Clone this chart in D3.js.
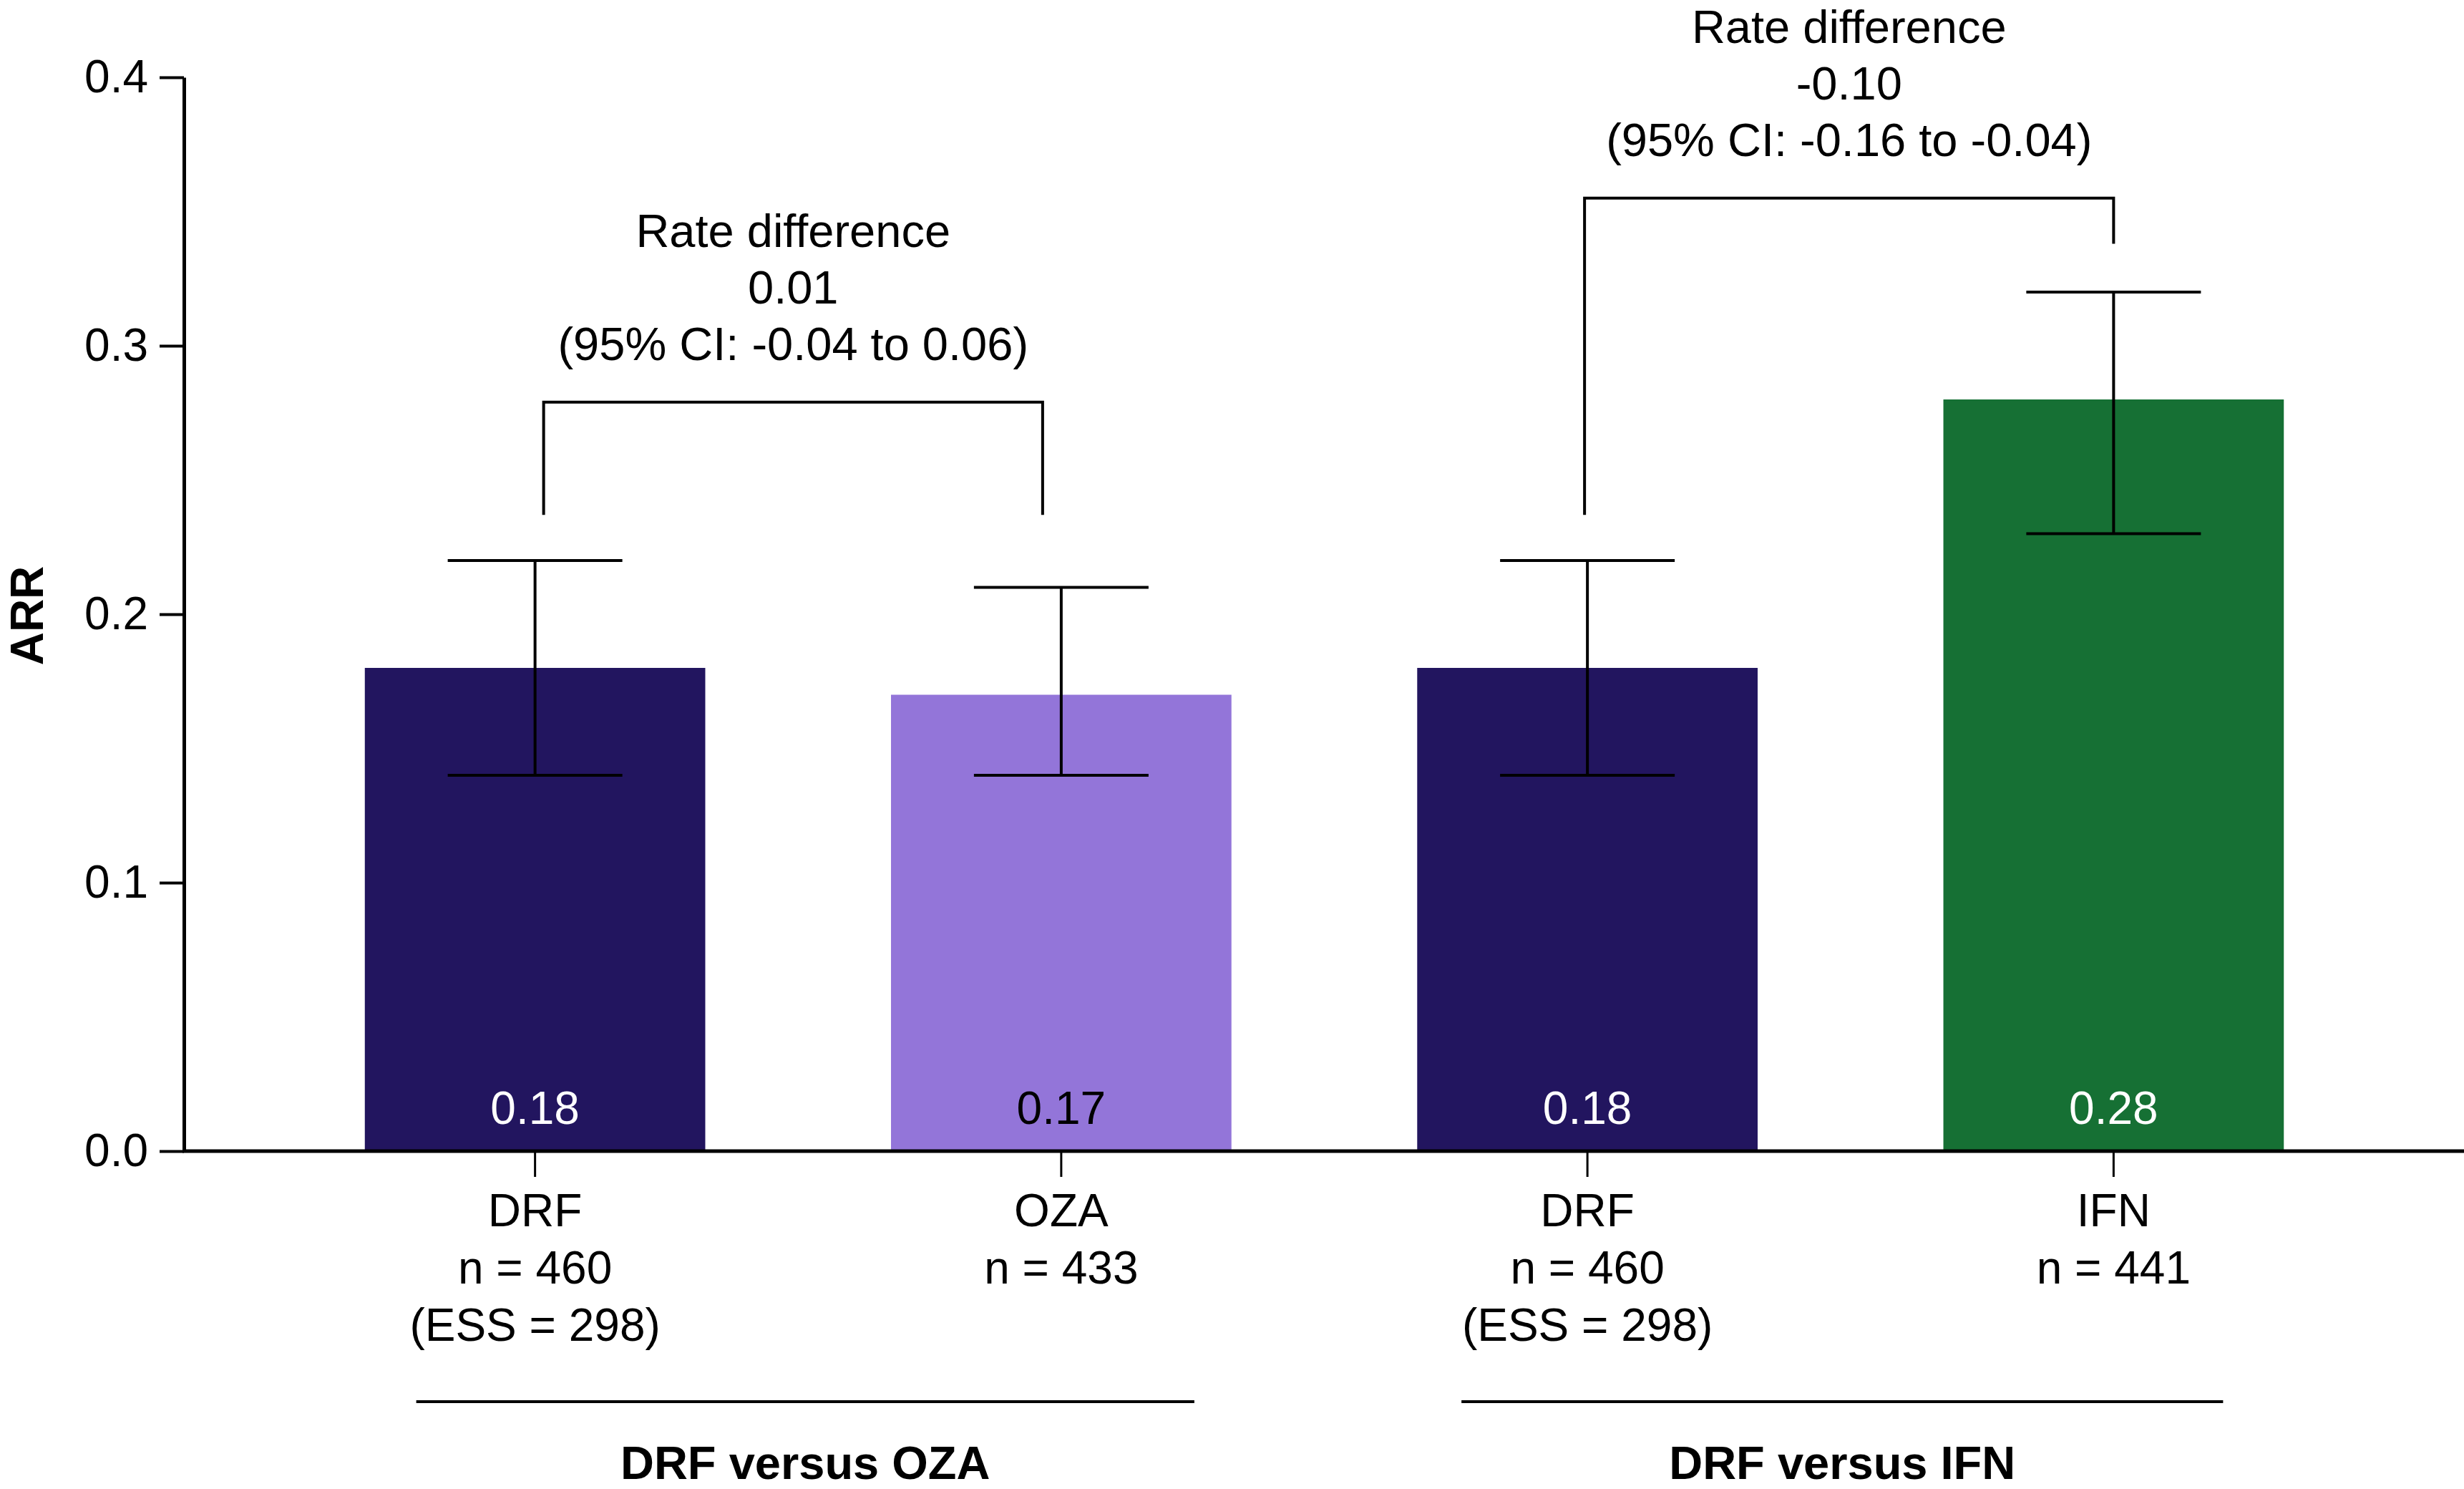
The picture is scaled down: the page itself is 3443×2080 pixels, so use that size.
<!DOCTYPE html>
<html>
<head>
<meta charset="utf-8">
<script src="https://d3js.org/d3.v7.min.js"></script>
<style>
  body { margin: 0; background: #fff; }
  text { font-family: "Liberation Sans", Arial, Helvetica, sans-serif; }
</style>
</head>
<body>
<div id="chart"></div>
<script>
// data
const arms = ["DRF", "OZA", "DRF", "IFN"];
const nText = ["n = 460", "n = 433", "n = 460", "n = 441"];
const essText = ["(ESS = 298)", "", "(ESS = 298)", ""];
const arr = [0.18, 0.17, 0.18, 0.28];
const ciLow = [0.14, 0.14, 0.14, 0.23];
const ciHigh = [0.22, 0.21, 0.22, 0.32];
const yTicks = [0, 0.1, 0.2, 0.3, 0.4];

const groupNames = ["DRF versus OZA", "DRF versus IFN"];
const groupPairs = [[0, 1], [2, 3]];
const rateDiff = ["0.01", "-0.10"];
const rateCI = ["(95% CI: -0.04 to 0.06)", "(95% CI: -0.16 to -0.04)"];
const bracketTop = [0.279, 0.355];
const bracketLeftEnd = [0.237, 0.237];
const bracketRightEnd = [0.237, 0.338];

const barColors = ["#22155f", "#9375d9", "#22155f", "#167034"];
const valueColors = ["#ffffff", "#000000", "#ffffff", "#ffffff"];

const W = 3443, H = 2080;
const axisX = 257, axisY = 1608, topY = 108;
const fs = 64;
// small horizontal insets, as drawn in the original
const bracketInset = [[12, 26], [-4, 0]];
const underlineReach = [[166, 186], [176, 153]];

const svg = d3.select("#chart").append("svg")
  .attr("width", W).attr("height", H);

const y = d3.scaleLinear().domain([0, 0.4]).range([axisY, topY]);
const x = d3.scaleBand().domain(d3.range(arms.length))
  .range([380, 3321]).paddingInner(0.353).paddingOuter(0.1765);
const cx = i => x(i) + x.bandwidth() / 2;

// bars
svg.append("g").selectAll("rect")
  .data(arr)
  .join("rect")
    .attr("x", (d, i) => x(i))
    .attr("y", d => y(d))
    .attr("width", x.bandwidth())
    .attr("height", d => axisY - y(d))
    .attr("fill", (d, i) => barColors[i]);

// value labels inside bars
svg.append("g").selectAll("text")
  .data(arr)
  .join("text")
    .attr("x", (d, i) => cx(i))
    .attr("y", axisY - 38)
    .attr("text-anchor", "middle")
    .attr("font-size", fs)
    .attr("fill", (d, i) => valueColors[i])
    .text(d => d.toFixed(2));

// error bars
const err = svg.append("g").attr("stroke", "#000").attr("stroke-width", 4);
arr.forEach((d, i) => {
  err.append("line").attr("x1", cx(i)).attr("x2", cx(i))
    .attr("y1", y(ciLow[i])).attr("y2", y(ciHigh[i]));
  [ciLow[i], ciHigh[i]].forEach(v => {
    err.append("line").attr("x1", cx(i) - 122).attr("x2", cx(i) + 122)
      .attr("y1", y(v)).attr("y2", y(v));
  });
});

// y axis
const yAxis = svg.append("g")
  .attr("transform", `translate(${axisX},0)`)
  .call(d3.axisLeft(y).tickValues(yTicks).tickFormat(d3.format(".1f"))
    .tickSize(34).tickSizeOuter(0).tickPadding(16));
yAxis.select(".domain").attr("stroke-width", 5);
yAxis.selectAll(".tick line").attr("stroke-width", 4);
yAxis.selectAll(".tick text").attr("font-size", fs).attr("fill", "#000")
  .attr("font-family", "Liberation Sans, Arial, sans-serif");

svg.append("text")
  .attr("transform", `translate(60,860) rotate(-90)`)
  .attr("text-anchor", "middle")
  .attr("font-size", fs).attr("font-weight", "bold")
  .text("ARR");

// x axis
const xAxis = svg.append("g")
  .attr("transform", `translate(0,${axisY})`)
  .call(d3.axisBottom(x).tickSize(36).tickFormat(""));
xAxis.select(".domain").remove();
xAxis.selectAll(".tick line").attr("stroke-width", 3);
svg.append("line")
  .attr("x1", axisX - 2).attr("x2", W)
  .attr("y1", axisY).attr("y2", axisY)
  .attr("stroke", "#000").attr("stroke-width", 5);

// category labels
const catG = svg.append("g").attr("font-size", fs).attr("text-anchor", "middle");
arms.forEach((a, i) => {
  [a, nText[i], essText[i]].forEach((t, k) => {
    if (!t) return;
    catG.append("text").attr("x", cx(i)).attr("y", axisY + 105 + k * 80).text(t);
  });
});

// group underlines and names
groupPairs.forEach((p, g) => {
  const x1 = cx(p[0]) - underlineReach[g][0], x2 = cx(p[1]) + underlineReach[g][1];
  svg.append("line").attr("x1", x1).attr("x2", x2)
    .attr("y1", 1958).attr("y2", 1958)
    .attr("stroke", "#000").attr("stroke-width", 4);
  svg.append("text").attr("x", (x1 + x2) / 2).attr("y", 2066)
    .attr("text-anchor", "middle").attr("font-size", fs + 1)
    .attr("font-weight", "bold").text(groupNames[g]);
});

// comparison brackets
groupPairs.forEach((p, g) => {
  const xl = cx(p[0]) + bracketInset[g][0], xr = cx(p[1]) - bracketInset[g][1];
  const yt = y(bracketTop[g]);
  svg.append("path")
    .attr("d", `M${xl},${y(bracketLeftEnd[g])}V${yt}H${xr}V${y(bracketRightEnd[g])}`)
    .attr("fill", "none").attr("stroke", "#000").attr("stroke-width", 4);
  const mid = (xl + xr) / 2;
  ["Rate difference", rateDiff[g], rateCI[g]].forEach((t, k) => {
    svg.append("text").attr("x", mid).attr("y", yt - 217 + k * 79)
      .attr("text-anchor", "middle").attr("font-size", fs + 1).text(t);
  });
});
</script>
</body>
</html>
